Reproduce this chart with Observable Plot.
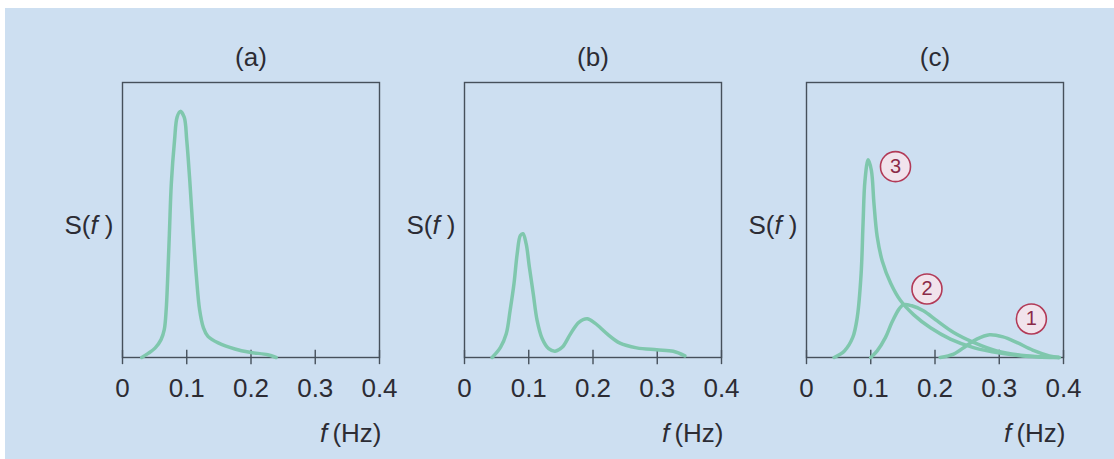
<!DOCTYPE html>
<html><head><meta charset="utf-8">
<script src="https://cdn.jsdelivr.net/npm/d3@7"></script>
<script src="https://cdn.jsdelivr.net/npm/@observablehq/plot@0.6"></script>
<style>
html,body{margin:0;padding:0;background:#fff;}
#wrap{position:relative;width:1114px;height:459px;overflow:hidden;}
#bg{position:absolute;left:5px;top:8px;right:0;bottom:0;background:#cddff1;}
#chart{position:absolute;left:0;top:0;}
</style></head><body>
<div id="wrap"><div id="bg"></div><div id="chart"></div></div>
<script>
// Panels and labels
const panels = ["a", "b", "c"];
const panelTitles = ["(a)", "(b)", "(c)"];
const xTicks = [0, 0.1, 0.2, 0.3, 0.4];
const xTickLabels = ["0", "0.1", "0.2", "0.3", "0.4"];
const yLabel = "S(f )";
const xLabel = "f\u2009(Hz)";

// Panel (a): single narrow peak
const aFreq = [0.030, 0.040, 0.051, 0.060, 0.065, 0.068, 0.070, 0.073, 0.076, 0.081, 0.085, 0.090, 0.096, 0.100, 0.105, 0.110, 0.115, 0.120, 0.126, 0.133, 0.149, 0.175, 0.198, 0.226, 0.239];
const aS    = [0.000, 0.015, 0.035, 0.065, 0.101, 0.174, 0.270, 0.452, 0.633, 0.790, 0.874, 0.895, 0.874, 0.790, 0.633, 0.452, 0.295, 0.174, 0.108, 0.077, 0.053, 0.031, 0.019, 0.010, 0.000];

// Panel (b): two peaks
const bFreq = [0.043, 0.056, 0.065, 0.071, 0.077, 0.082, 0.087, 0.091, 0.096, 0.101, 0.107, 0.113, 0.121, 0.131, 0.141, 0.152, 0.165, 0.178, 0.191, 0.203, 0.222, 0.242, 0.268, 0.299, 0.325, 0.343];
const bS    = [0.000, 0.037, 0.086, 0.171, 0.268, 0.377, 0.444, 0.450, 0.413, 0.328, 0.232, 0.135, 0.068, 0.032, 0.023, 0.037, 0.086, 0.128, 0.141, 0.125, 0.086, 0.052, 0.035, 0.028, 0.023, 0.006];

// Panel (c): three spectra
const c3Freq = [0.043, 0.059, 0.072, 0.079, 0.085, 0.088, 0.091, 0.096, 0.101, 0.105, 0.110, 0.118, 0.131, 0.146, 0.167, 0.193, 0.224, 0.260, 0.301, 0.347, 0.393];
const c3S    = [0.000, 0.024, 0.073, 0.146, 0.304, 0.486, 0.643, 0.719, 0.680, 0.560, 0.440, 0.350, 0.270, 0.208, 0.155, 0.108, 0.067, 0.036, 0.016, 0.004, 0.000];
const c2Freq = [0.100, 0.110, 0.123, 0.133, 0.144, 0.151, 0.164, 0.182, 0.203, 0.229, 0.260, 0.296, 0.342, 0.393];
const c2S    = [0.000, 0.024, 0.073, 0.128, 0.176, 0.192, 0.188, 0.170, 0.134, 0.091, 0.055, 0.024, 0.006, 0.000];
const c1Freq = [0.208, 0.229, 0.249, 0.265, 0.285, 0.306, 0.327, 0.352, 0.378, 0.393];
const c1S    = [0.000, 0.012, 0.043, 0.067, 0.083, 0.075, 0.055, 0.027, 0.006, 0.000];

// Numbered markers in panel (c)
const markerLabels = ["3", "2", "1"];
const markerFreq = [0.1385, 0.1875, 0.350];
const markerS = [0.694, 0.249, 0.140];

// Build tables
const series = [
  {panel: "a", id: "a", f: aFreq, s: aS},
  {panel: "b", id: "b", f: bFreq, s: bS},
  {panel: "c", id: "c3", f: c3Freq, s: c3S},
  {panel: "c", id: "c2", f: c2Freq, s: c2S},
  {panel: "c", id: "c1", f: c1Freq, s: c1S}
];
const curveRows = series.flatMap(d => d.f.map((f, i) => ({panel: d.panel, series: d.id, f, s: d.s[i]})));
const markerRows = markerLabels.map((label, i) => ({panel: "c", label, f: markerFreq[i], s: markerS[i]}));
const titleRows = panels.map((p, i) => ({panel: p, title: panelTitles[i]}));

const ink = "#2c2c34";
const frameColor = "#46505b";
const fs = 26;

const chart = Plot.plot({
  width: 1114,
  height: 459,
  marginLeft: 121,
  marginRight: 50,
  marginTop: 82,
  marginBottom: 102,
  style: {background: "transparent", fontFamily: "'Liberation Sans', Arial, sans-serif", color: ink, overflow: "visible"},
  fx: {domain: panels, padding: 0.2474, axis: null, label: null},
  x: {domain: [0, 0.4]},
  y: {domain: [0, 1], axis: null},
  marks: [
    Plot.frame({stroke: frameColor, strokeWidth: 1.4}),
    Plot.ruleX(xTicks, {x: d => d, y1: -0.026, y2: 0.026, stroke: frameColor, strokeWidth: 1.4}),
    Plot.axisX(xTicks, {tickSize: 0, tickPadding: 21, fontSize: fs, fill: ink, label: null,
      tickFormat: d => xTickLabels[xTicks.indexOf(d)]}),
    Plot.line(curveRows, {x: "f", y: "s", z: "series", fx: "panel", stroke: "#7fc7ad", strokeWidth: 3.5, curve: "catmull-rom", strokeLinejoin: "round", strokeLinecap: "round"}),
    Plot.dot(markerRows, {x: "f", y: "s", fx: "panel", r: 15, fill: "#f5e3eb", fillOpacity: 0.9, stroke: "#b23a57", strokeWidth: 1.6}),
    Plot.text(markerRows, {x: "f", y: "s", fx: "panel", text: "label", fill: "#8b2a48", fontSize: 20}),
    Plot.text(titleRows, {fx: "panel", text: "title", frameAnchor: "top", lineAnchor: "middle", dy: -25, fontSize: fs, fill: ink}),
    Plot.text(titleRows, {fx: "panel", text: () => yLabel, frameAnchor: "left", lineAnchor: "middle", textAnchor: "end", dx: -9, dy: 6, fontSize: fs, fill: ink}),
    Plot.text(titleRows, {fx: "panel", text: () => xLabel, frameAnchor: "bottom-right", lineAnchor: "middle", textAnchor: "end", dx: 2, dy: 76, fontSize: fs, fill: ink})
  ]
});

// Italicise the variable f in the labels
const NS = "http://www.w3.org/2000/svg";
function rich(t, parts) {
  t.textContent = "";
  for (const [str, it] of parts) {
    const sp = document.createElementNS(NS, "tspan");
    sp.textContent = str;
    if (it) sp.setAttribute("font-style", "italic");
    t.appendChild(sp);
  }
}
for (const t of chart.querySelectorAll("text")) {
  if (t.textContent === yLabel) rich(t, [["S(", false], ["f", true], ["\u00a0)", false]]);
  else if (t.textContent === xLabel) rich(t, [["f", true], ["\u2009(Hz)", false]]);
}

document.getElementById("chart").appendChild(chart);
</script>
</body></html>
